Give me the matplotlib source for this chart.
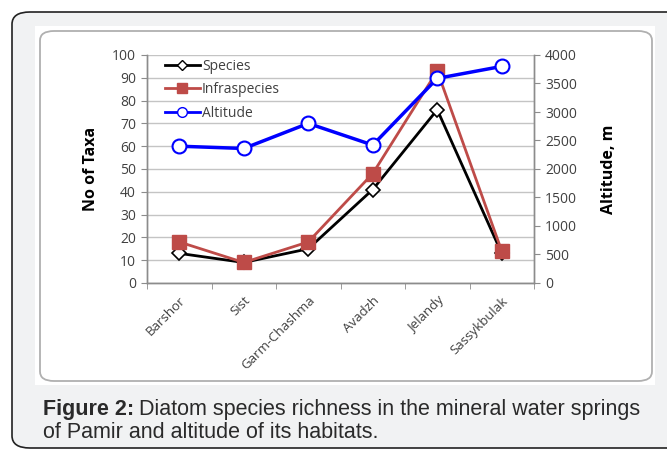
import matplotlib.pyplot as plt
from matplotlib.patches import FancyBboxPatch
from matplotlib.lines import Line2D

# data
sites = ['Barshor', 'Sist', 'Garm-Chashma', 'Avadzh', 'Jelandy', 'Sassykbulak']
species = [13, 9, 15, 41, 76, 13]
infraspecies = [18, 9, 18, 48, 93, 14]
altitude = [2400, 2360, 2800, 2420, 3590, 3800]

W, H = 667, 454
fig = plt.figure(figsize=(W / 100, H / 100), dpi=100)
fig.patch.set_facecolor('white')

def box(x0, y0, x1, y1, r, fc, ec, lw):
    # pixel coords measured from top-left
    p = FancyBboxPatch((x0 / W, 1 - y1 / H), (x1 - x0) / W, (y1 - y0) / H,
                       boxstyle='round,pad=0,rounding_size=%f' % (r / W),
                       transform=fig.transFigure, facecolor=fc, edgecolor=ec,
                       linewidth=lw, zorder=-10)
    fig.patches.append(p)

# outer frame, white panel, chart area
box(12, 12, 690, 448, 18, '#f1f2f3', '#222222', 1.2)
box(35, 26, 655, 385, 0, 'white', 'none', 0)
box(40, 31, 652, 381, 14, 'white', '#b0b0b0', 1.3)

ax = fig.add_axes([147 / W, 1 - 283 / H, (534 - 147) / W, (283 - 55) / H])
ax.set_facecolor('none')
ax2 = ax.twinx()

tick_col = '#404040'
axis_col = '#8c8c8c'
font = 'Open Sans'

x = list(range(len(sites)))
ax.plot(x, species, color='black', lw=2, marker='D', ms=7,
        mfc='white', mec='black', mew=1.2, zorder=2)
ax.plot(x, infraspecies, color='#be4b48', lw=2, marker='s', ms=10,
        mfc='#be4b48', mec='#be4b48', zorder=3)
ax2.plot(x, altitude, color='#0000ff', lw=2.5, marker='o', ms=10,
         mfc='white', mec='#0000ff', mew=1.5, zorder=3)

ax.set_xlim(-0.5, 5.5)
ax.set_ylim(0, 100)
ax2.set_ylim(0, 4000)
ax.set_yticks(range(0, 101, 10))
ax2.set_yticks(range(0, 4001, 500))

ax.yaxis.grid(True, color='#c4c4c4', lw=1)
ax.set_axisbelow(True)

ax.set_xticks(x)
ax.set_xticklabels(sites, rotation=45, ha='right', rotation_mode='anchor',
                   fontsize=9.5, color=tick_col, family=font)
ax.set_xticks([i - 0.5 for i in range(len(sites) + 1)], minor=True)
ax.tick_params(axis='x', which='major', length=0, pad=8)
ax.tick_params(axis='x', which='minor', length=4, color=axis_col, direction='out')

ax.tick_params(axis='y', length=4, color=axis_col, labelcolor=tick_col,
               labelsize=10, pad=4)
ax2.tick_params(axis='y', length=4, color=axis_col, labelcolor=tick_col,
                labelsize=10, pad=4)
for lab in ax.get_yticklabels() + ax2.get_yticklabels():
    lab.set_family(font)

for a in (ax, ax2):
    a.spines['top'].set_visible(False)
    for s in ('left', 'right', 'bottom'):
        a.spines[s].set_color(axis_col)
        a.spines[s].set_linewidth(1)

ax.set_ylabel('No of Taxa', fontsize=11.5, fontweight='bold', family=font, labelpad=9)
ax2.set_ylabel('Altitude, m', fontsize=11.5, fontweight='bold', family=font,
               rotation=90, labelpad=17)

handles = [
    Line2D([], [], color='black', lw=2, marker='D', ms=5, mfc='white', mec='black'),
    Line2D([], [], color='#be4b48', lw=2, marker='s', ms=7, mfc='#be4b48', mec='#be4b48'),
    Line2D([], [], color='#0000ff', lw=2, marker='o', ms=7, mfc='white', mec='#0000ff'),
]
leg = ax2.legend(handles, ['Species', 'Infraspecies', 'Altitude'], loc='upper left',
                 bbox_to_anchor=((165 - 147) / 387, (283 - 59) / 228), frameon=False,
                 borderaxespad=0, borderpad=0, handlelength=2.5,
                 handletextpad=0.15, labelspacing=0.6,
                 prop={'family': font, 'size': 10})
for t in leg.get_texts():
    t.set_color(tick_col)

# caption
cap_font = 'Liberation Sans'
renderer = fig.canvas.get_renderer()
t1 = fig.text(43 / W, 1 - 409 / H, 'Figure 2:', fontsize=15.5, fontweight='bold',
              family=cap_font, color='#2a2a2a', va='center')
bb = t1.get_window_extent(renderer)
fig.text(bb.x1 / W + 5 / W, 1 - 409 / H, 'Diatom species richness in the mineral water springs',
         fontsize=15.5, family=cap_font, color='#2a2a2a', va='center')
fig.text(43 / W, 1 - 433 / H, 'of Pamir and altitude of its habitats.', fontsize=15.5,
         family=cap_font, color='#2a2a2a', va='center')

fig.savefig('out.png', dpi=100)
